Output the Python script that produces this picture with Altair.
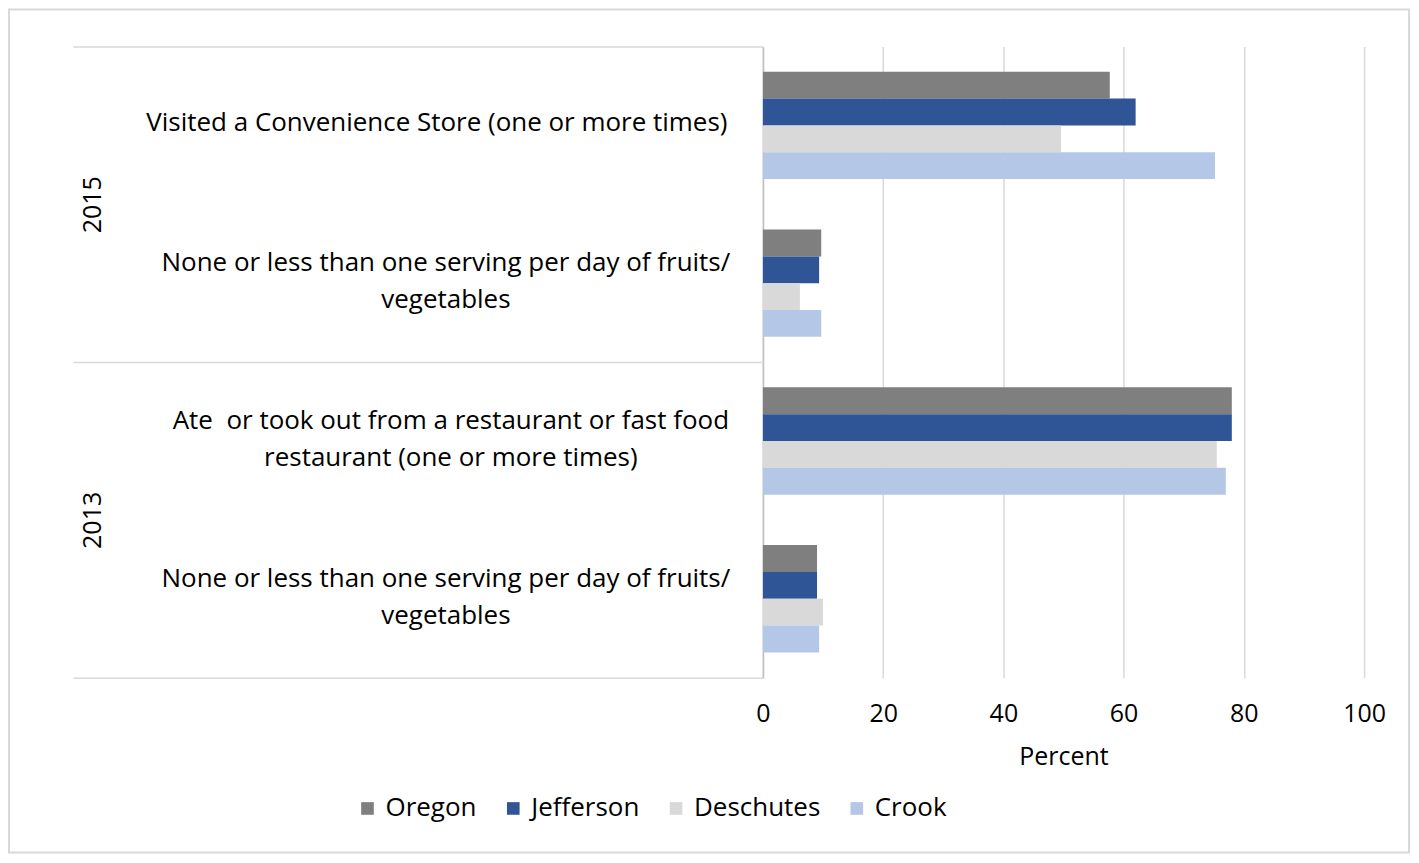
import altair as alt
import pandas as pd

# ---- data ----
years = ["2015", "2015", "2013", "2013"]
questions = [
    ["Visited a Convenience Store (one or more times)"],
    ["None or less than one serving per day of fruits/", "vegetables"],
    ["Ate\u00a0 or took out from a restaurant or fast food", "restaurant (one or more times)"],
    ["None or less than one serving per day of fruits/", "vegetables"],
]
counties = ["Oregon", "Jefferson", "Deschutes", "Crook"]
colors = ["#7f7f7f", "#2f5597", "#d9d9d9", "#b4c7e7"]
oregon = [57.7, 9.7, 78.0, 9.0]
jefferson = [62.0, 9.35, 78.0, 9.0]
deschutes = [49.6, 6.15, 75.5, 10.0]
crook = [75.2, 9.7, 77.0, 9.35]
x_ticks = [0, 20, 40, 60, 80, 100]
year_order = ["2015", "2013"]

keys = [y + "|" + "~".join(q) for y, q in zip(years, questions)]
rows = []
for name, vals in zip(counties, [oregon, jefferson, deschutes, crook]):
    for k, v in zip(keys, vals):
        rows.append({"cat": k, "county": name, "value": v})
df = pd.DataFrame(rows)
year_df = pd.DataFrame({"year": year_order})

FONT = "Open Sans"
FS = 26

label_padding = {
    "condition": [
        {"test": "indexof(datum.value, 'Visited') >= 0", "value": 327},
        {"test": "indexof(datum.value, 'Ate') >= 0", "value": 313},
    ],
    "value": 318,
}
label_offset = {
    "condition": {"test": "indexof(datum.value, '~') >= 0", "value": -20},
    "value": -2,
}

bars = alt.Chart(df).mark_bar().encode(
    x=alt.X(
        "value:Q",
        scale=alt.Scale(domain=[0, 100], nice=False),
        axis=alt.Axis(
            values=x_ticks, title="Percent", grid=True, gridColor="#d9d9d9", gridWidth=1.5,
            domain=False, ticks=False, labelFlush=False, labelFontSize=25, labelPadding=24,
            labelColor="#000", titleFontSize=25, titlePadding=18, titleColor="#000",
            titleFontWeight="normal",
        ),
    ),
    y=alt.Y(
        "cat:N", sort=keys,
        scale=alt.Scale(paddingInner=0.32, paddingOuter=0.16),
        axis=alt.Axis(
            title=None, orient="left", ticks=False, tickSize=0, domain=True,
            domainColor="#bfbfbf", domainWidth=1.5,
            labelExpr="split(slice(datum.value, 5), '~')",
            labelAlign="center", labelBaseline="middle", labelLineHeight=37,
            labelFontSize=FS, labelColor="#000", labelPadding=label_padding,
            labelOffset=label_offset, labelLimit=0,
        ),
    ),
    yOffset=alt.YOffset("county:N", sort=counties, scale=alt.Scale(paddingInner=0, paddingOuter=0)),
    color=alt.Color(
        "county:N", sort=counties,
        scale=alt.Scale(domain=counties, range=colors),
        legend=alt.Legend(
            title=None, orient="none", legendX=-409, legendY=750, direction="horizontal",
            symbolType="square", symbolSize=160, symbolStrokeWidth=0,
            labelFontSize=FS, labelColor="#000", columnPadding=23, labelOffset=5, padding=0,
        ),
    ),
)

year_layer = alt.Chart(year_df).mark_point(opacity=0).encode(
    y=alt.Y(
        "year:N", sort=year_order,
        scale=alt.Scale(paddingInner=0, paddingOuter=0),
        axis=alt.Axis(
            title=None, orient="left", domain=False, grid=False, ticks=True,
            tickBand="extent", tickSize=691, tickColor="#d9d9d9", tickWidth=1.5,
            labelAngle=270, labelAlign="center", labelBaseline="bottom",
            labelPadding=-33, labelFontSize=25, labelColor="#000",
        ),
    )
)

# light grey frame around the whole figure (decoration)
frame = alt.Chart(year_df.head(1)).mark_rect(
    fill="transparent", stroke="#d9d9d9", strokeWidth=2
).encode(
    x=alt.value(-755), x2=alt.value(647), y=alt.value(-37), y2=alt.value(807)
)

chart = (
    alt.layer(frame, bars, year_layer)
    .resolve_scale(y="independent")
    .properties(
        width=602, height=632,
        autosize=alt.AutoSizeParams(type="none"),
        padding={"left": 756, "top": 38, "right": 47, "bottom": 177},
    )
    .configure(font=FONT)
    .configure_view(stroke="transparent")
)

chart.save("out.html", embed_options={"renderer": "svg", "actions": False})
